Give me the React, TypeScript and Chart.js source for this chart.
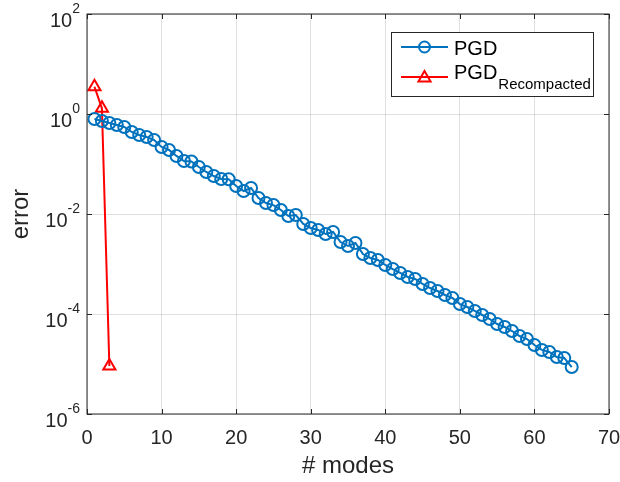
import React, { useEffect, useRef } from 'react';
import { Chart, registerables } from 'chart.js';

Chart.register(...registerables);

const modes = [
  1, 2, 3, 4, 5, 6, 7, 8, 9, 10, 11, 12, 13, 14, 15, 16, 17, 18, 19, 20,
  21, 22, 23, 24, 25, 26, 27, 28, 29, 30, 31, 32, 33, 34, 35, 36, 37, 38, 39, 40,
  41, 42, 43, 44, 45, 46, 47, 48, 49, 50, 51, 52, 53, 54, 55, 56, 57, 58, 59, 60,
  61, 62, 63, 64, 65,
];

const pgdError = [
  0.794, 0.724, 0.661, 0.603, 0.55, 0.437, 0.38, 0.347, 0.302, 0.219,
  0.191, 0.145, 0.115, 0.112, 0.0871, 0.0692, 0.0575, 0.0501, 0.0495, 0.0363,
  0.0288, 0.0331, 0.0209, 0.0166, 0.0151, 0.012, 0.00912, 0.00955, 0.00631, 0.00525,
  0.00479, 0.00398, 0.00437, 0.00275, 0.00229, 0.00263, 0.00158, 0.00132, 0.0012, 0.000955,
  0.000794, 0.000661, 0.00055, 0.000501, 0.000398, 0.000331, 0.000288, 0.00024, 0.000209, 0.000158,
  0.000138, 0.000115, 0.0000955, 0.0000794, 0.0000631, 0.000055, 0.0000457, 0.0000363, 0.0000316, 0.000024,
  0.0000191, 0.0000174, 0.0000138, 0.0000132, 0.0000087,
];

const recompModes = [1, 2, 3];
const recompError = [3.5, 1.3, 0.0000091];

const xTicks = [0, 10, 20, 30, 40, 50, 60, 70];
const yTicks = [1e-6, 1e-4, 1e-2, 1, 1e2];
const yTickExponents = ['-6', '-4', '-2', '0', '2'];

const seriesNames = ['PGD', 'PGD'];
const seriesSubscripts = ['', 'Recompacted'];

const AXIS = '#262626';
const GRID = 'rgba(38,38,38,0.15)';
const BLUE = '#0072BD';
const RED = '#FF0000';
const FONT = 'Arial, "Liberation Sans", Helvetica, sans-serif';

function drawTriangle(ctx: CanvasRenderingContext2D, x: number, y: number, r: number) {
  ctx.beginPath();
  ctx.moveTo(x, y - r);
  ctx.lineTo(x + r * Math.sin((2 * Math.PI) / 3), y - r * Math.cos((2 * Math.PI) / 3));
  ctx.lineTo(x - r * Math.sin((2 * Math.PI) / 3), y - r * Math.cos((2 * Math.PI) / 3));
  ctx.closePath();
  ctx.stroke();
}

const framePlugin = {
  id: 'frame',
  afterDraw(chart: any) {
    const { ctx, chartArea: a, scales } = chart;
    ctx.save();
    // inward tick marks
    ctx.strokeStyle = AXIS;
    ctx.lineWidth = 1;
    xTicks.forEach((v) => {
      const x = Math.round(scales.x.getPixelForValue(v)) + 0.5;
      ctx.beginPath();
      ctx.moveTo(x, a.bottom);
      ctx.lineTo(x, a.bottom - 5);
      ctx.moveTo(x, a.top);
      ctx.lineTo(x, a.top + 5);
      ctx.stroke();
    });
    yTicks.forEach((v) => {
      const y = Math.round(scales.y.getPixelForValue(v)) + 0.5;
      ctx.beginPath();
      ctx.moveTo(a.left, y);
      ctx.lineTo(a.left + 5, y);
      ctx.moveTo(a.right, y);
      ctx.lineTo(a.right - 5, y);
      ctx.stroke();
    });
    // box
    ctx.strokeRect(a.left, a.top, a.right - a.left, a.bottom - a.top);

    // x tick labels
    ctx.fillStyle = AXIS;
    ctx.font = `20px ${FONT}`;
    ctx.textAlign = 'center';
    ctx.textBaseline = 'middle';
    xTicks.forEach((v) => {
      ctx.fillText(String(v), scales.x.getPixelForValue(v), a.bottom + 24);
    });

    // y tick labels with superscript
    yTicks.forEach((v, i) => {
      const y = scales.y.getPixelForValue(v);
      const xr = a.left - 7;
      ctx.font = `14px ${FONT}`;
      ctx.textAlign = 'right';
      ctx.textBaseline = 'alphabetic';
      const ew = ctx.measureText(yTickExponents[i]).width;
      ctx.fillText(yTickExponents[i], xr, y - 1);
      ctx.font = `20px ${FONT}`;
      ctx.fillText('10', xr - ew, y + 13);
    });

    // legend
    const lw = 202;
    const lh = 64;
    const lx = Math.round(a.right - 16 - lw);
    const ly = Math.round(a.top + 18);
    ctx.fillStyle = '#ffffff';
    ctx.fillRect(lx, ly, lw, lh);
    ctx.strokeStyle = AXIS;
    ctx.lineWidth = 1;
    ctx.strokeRect(lx + 0.5, ly + 0.5, lw, lh);

    const rows = [ly + 15, ly + 45];
    const colors = [BLUE, RED];
    rows.forEach((ry, i) => {
      ctx.strokeStyle = colors[i];
      ctx.lineWidth = 2;
      ctx.beginPath();
      ctx.moveTo(lx + 10, ry);
      ctx.lineTo(lx + 57, ry);
      ctx.stroke();
      const mx = lx + 33.5;
      ctx.lineWidth = 2;
      if (i === 0) {
        ctx.beginPath();
        ctx.arc(mx, ry, 5.5, 0, Math.PI * 2);
        ctx.stroke();
      } else {
        drawTriangle(ctx, mx, ry + 1, 7);
      }
      ctx.fillStyle = '#000000';
      ctx.textAlign = 'left';
      ctx.textBaseline = 'alphabetic';
      ctx.font = `20px ${FONT}`;
      const tx = lx + 63;
      const base = i === 0 ? ry + 8 : ry + 2;
      ctx.fillText(seriesNames[i], tx, base);
      if (seriesSubscripts[i]) {
        const w = ctx.measureText(seriesNames[i]).width;
        ctx.font = `15px ${FONT}`;
        ctx.fillText(seriesSubscripts[i], tx + w + 1, base + 10);
      }
    });
    ctx.restore();
  },
};

export default function App() {
  const ref = useRef<HTMLCanvasElement | null>(null);
  useEffect(() => {
    if (!ref.current) return;
    const chart = new Chart(ref.current, {
      type: 'line',
      data: {
        datasets: [
          {
            label: 'PGD',
            data: modes.map((m, i) => ({ x: m, y: pgdError[i] })),
            borderColor: BLUE,
            borderWidth: 2,
            pointStyle: 'circle',
            pointRadius: 6,
            pointBorderWidth: 2,
            pointBorderColor: BLUE,
            pointBackgroundColor: 'rgba(0,0,0,0)',
            fill: false,
            tension: 0,
          },
          {
            label: 'PGD_Recompacted',
            data: recompModes.map((m, i) => ({ x: m, y: recompError[i] })),
            borderColor: RED,
            borderWidth: 2,
            pointStyle: 'triangle',
            pointRadius: 7,
            pointBorderWidth: 2,
            pointBorderColor: RED,
            pointBackgroundColor: 'rgba(0,0,0,0)',
            fill: false,
            tension: 0,
          },
        ],
      },
      options: {
        animation: false,
        responsive: false,
        devicePixelRatio: 1,
        layout: { padding: { top: 14, right: 11, left: 0, bottom: 0 } },
        plugins: { legend: { display: false }, tooltip: { enabled: false } },
        scales: {
          x: {
            type: 'linear',
            min: 0,
            max: 70,
            afterBuildTicks: (scale: any) => {
              scale.ticks = xTicks.map((v) => ({ value: v }));
            },
            afterFit: (scale: any) => {
              scale.height = 68;
            },
            ticks: { display: false },
            grid: { color: GRID, drawTicks: false, lineWidth: 1 },
            border: { display: false },
            title: {
              display: true,
              text: '# modes',
              color: AXIS,
              font: { family: FONT, size: 24 },
              padding: { top: 0, bottom: 1 },
            },
          },
          y: {
            type: 'logarithmic',
            min: 1e-6,
            max: 1e2,
            afterBuildTicks: (scale: any) => {
              scale.ticks = yTicks.map((v) => ({ value: v, major: true }));
            },
            afterFit: (scale: any) => {
              scale.width = 87;
            },
            ticks: { display: false },
            grid: { color: GRID, drawTicks: false, lineWidth: 1 },
            border: { display: false },
            title: {
              display: true,
              text: 'error',
              color: AXIS,
              font: { family: FONT, size: 24 },
              padding: { top: 7, bottom: 0 },
            },
          },
        },
      },
      plugins: [framePlugin],
    } as any);
    return () => chart.destroy();
  }, []);

  return (
    <div style={{ position: 'fixed', left: 0, top: 0, width: 620, height: 482, background: '#fff' }}>
      <canvas ref={ref} width={620} height={482} />
    </div>
  );
}
